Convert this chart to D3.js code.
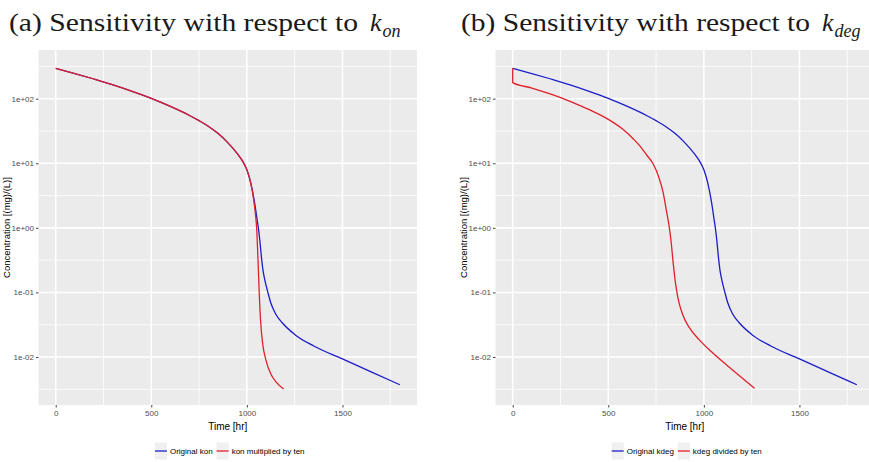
<!DOCTYPE html>
<html>
<head>
<meta charset="utf-8">
<script src="https://cdn.jsdelivr.net/npm/d3@7"></script>
<style>
  body { margin: 0; background: #fff; }
  svg { display: block; }
  .ttl { font-family: "Liberation Serif", "Times New Roman", "DejaVu Serif", serif; }
  .sans { font-family: "Liberation Sans", Arial, sans-serif; }
</style>
</head>
<body>
<svg id="chart" width="869" height="462"></svg>
<script>
// ---- data ----
// original simulation (same curve in both panels)
const timeOrig = [0, 100, 200, 300, 400, 500, 600, 700, 750, 800, 850, 900, 950, 980, 1000, 1020, 1040, 1055, 1060,
  1068, 1076, 1084, 1095, 1110, 1125, 1150, 1185, 1250, 1350, 1500, 1650, 1800]
const concOrig = [296, 245.5, 201.8, 164.1, 130.3, 101.2, 75.9, 55.0, 45.7, 37.2, 28.8, 20.9, 14.1, 10.5, 7.94, 5.01, 2.51, 1.26, 1.0,
  0.631, 0.355, 0.224, 0.151, 0.100, 0.0692, 0.0468, 0.0339, 0.0224, 0.0148, 0.00933, 0.00589, 0.00372]

// kon multiplied by ten
const timeKon = [0, 100, 200, 300, 400, 500, 600, 700, 750, 800, 850, 900, 950, 980, 1000, 1020, 1035, 1045, 1052,
  1057, 1062, 1066, 1072, 1083, 1100, 1126, 1150, 1192]
const concKon = [296, 245.5, 201.8, 164.1, 130.3, 101.2, 75.9, 55.0, 45.7, 37.2, 28.8, 20.9, 14.1, 10.5, 7.94, 5.01, 2.8, 1.6, 0.9,
  0.4, 0.16, 0.079, 0.0355, 0.0158, 0.0089, 0.0054, 0.0042, 0.0032]

// kdeg divided by ten
const timeKdeg = [0, 0, 100, 200, 300, 400, 500, 575, 630, 665, 700, 733, 760, 786, 805, 821, 830, 838, 850, 864,
  890, 925, 975, 1047, 1150, 1265]
const concKdeg = [296, 177, 146.2, 117.5, 91.2, 67.6, 47.9, 33.9, 24.0, 18.6, 13.5, 10.0, 6.61, 3.63, 1.78, 0.933,
  0.562, 0.316, 0.151, 0.0832, 0.0447, 0.0282, 0.0186, 0.0115, 0.00631, 0.00329]

const xTicks = [0, 500, 1000, 1500]
const xMinor = [250, 750, 1250, 1750]
const yTicks = [1e2, 1e1, 1e0, 1e-1, 1e-2]
const yTickLabels = ["1e+02", "1e+01", "1e+00", "1e-01", "1e-02"]
const yMinor = [316.2, 31.62, 3.162, 0.3162, 0.03162, 0.003162]
const xDomain = [-90, 1890]
const yDomain = [0.001807, 567.5]

const legendA = ["Original kon", "kon multiplied by ten"]
const legendB = ["Original kdeg", "kdeg divided by ten"]

const blue = "#1c1cc8", red = "#e0202a"

const svg = d3.select("#chart")
const panelTop = 50, panelBottom = 405, panelW = 378.5

const panels = [
  {left: 38.5, titleX: 9, tag: "(a) Sensitivity with respect to", sub: "on", legend: legendA,
    series: [{t: timeOrig, c: concOrig, color: blue}, {t: timeKon, c: concKon, color: red}]},
  {left: 495.5, titleX: 461, tag: "(b) Sensitivity with respect to", sub: "deg", legend: legendB,
    series: [{t: timeOrig, c: concOrig, color: blue}, {t: timeKdeg, c: concKdeg, color: red}]}
]

panels.forEach(p => drawPanel(p))

function drawPanel(p){
  const x = d3.scaleLinear().domain(xDomain).range([p.left, p.left + panelW])
  const y = d3.scaleLog().domain(yDomain).range([panelBottom, panelTop])
  const g = svg.append("g")

  // title, LaTeX-ish
  g.append("text").attr("class", "ttl")
    .attr("x", p.titleX).attr("y", 31)
    .attr("font-size", 26).attr("fill", "#1a1a1a")
    .attr("textLength", 349).attr("lengthAdjust", "spacingAndGlyphs")
    .text(p.tag)
  const sym = g.append("text").attr("class", "ttl")
    .attr("x", p.titleX + 361).attr("y", 31)
    .attr("font-size", 26).attr("fill", "#1a1a1a").attr("font-style", "italic")
  sym.append("tspan").text("k")
  sym.append("tspan").text(p.sub).attr("font-size", 18).attr("dy", 6).attr("dx", 1)

  // panel background
  g.append("rect")
    .attr("x", p.left).attr("y", panelTop)
    .attr("width", panelW).attr("height", panelBottom - panelTop)
    .attr("fill", "#ebebeb")

  // minor grid
  g.selectAll(".xminor").data(xMinor).join("line")
    .attr("x1", d => x(d)).attr("x2", d => x(d)).attr("y1", panelTop).attr("y2", panelBottom)
    .attr("stroke", "#fff").attr("stroke-width", 0.8)
  g.selectAll(".yminor").data(yMinor).join("line")
    .attr("y1", d => y(d)).attr("y2", d => y(d)).attr("x1", p.left).attr("x2", p.left + panelW)
    .attr("stroke", "#fff").attr("stroke-width", 0.8)
  // major grid
  g.selectAll(".xmajor").data(xTicks).join("line")
    .attr("x1", d => x(d)).attr("x2", d => x(d)).attr("y1", panelTop).attr("y2", panelBottom)
    .attr("stroke", "#fff").attr("stroke-width", 1.6)
  g.selectAll(".ymajor").data(yTicks).join("line")
    .attr("y1", d => y(d)).attr("y2", d => y(d)).attr("x1", p.left).attr("x2", p.left + panelW)
    .attr("stroke", "#fff").attr("stroke-width", 1.6)

  // axes
  const xAxis = g.append("g").attr("transform", `translate(0,${panelBottom})`)
    .call(d3.axisBottom(x).tickValues(xTicks).tickFormat(d3.format("d")).tickSize(2.5).tickPadding(3))
  const yAxis = g.append("g").attr("transform", `translate(${p.left},0)`)
    .call(d3.axisLeft(y).tickValues(yTicks).tickFormat((d, i) => yTickLabels[i]).tickSize(2.5).tickPadding(2))
  ;[xAxis, yAxis].forEach(a => {
    a.select(".domain").remove()
    a.selectAll(".tick line").attr("stroke", "#444")
    a.selectAll(".tick text").attr("fill", "#4d4d4d").attr("font-size", 8)
      .attr("font-family", "Liberation Sans, Arial, sans-serif")
  })

  // axis titles
  g.append("text").attr("class", "sans")
    .attr("x", p.left + panelW / 2).attr("y", 429.5)
    .attr("text-anchor", "middle").attr("font-size", 10)
    .text("Time [hr]")
  g.append("text").attr("class", "sans")
    .attr("transform", `translate(${p.left - 29},${(panelTop + panelBottom) / 2}) rotate(-90)`)
    .attr("text-anchor", "middle").attr("font-size", 9.5)
    .text("Concentration [(mg)/(L)]")

  // lines
  const line = d3.line()
    .x(d => x(d[0])).y(d => y(d[1]))
    .curve(d3.curveMonotoneX)
  p.series.forEach(s => {
    g.append("path")
      .datum(d3.zip(s.t, s.c))
      .attr("d", line)
      .attr("fill", "none")
      .attr("stroke", s.color)
      .attr("stroke-width", 1.3)
  })

  // legend
  const lg = g.append("g")
  let cx = 0
  p.legend.forEach((name, i) => {
    const item = lg.append("g").attr("transform", `translate(${cx},0)`)
    item.append("rect").attr("x", 0).attr("y", -8.5).attr("width", 12).attr("height", 17).attr("fill", "#f0f0f0")
    item.append("line").attr("x1", 0).attr("x2", 12).attr("y1", 0).attr("y2", 0)
      .attr("stroke", p.series[i].color).attr("stroke-width", 1.3)
    const t = item.append("text").attr("class", "sans").attr("x", 15).attr("y", 3)
      .attr("font-size", 8).text(name)
    cx += 15 + t.node().getComputedTextLength() + 4
  })
  const lw = cx - 4
  lg.attr("transform", `translate(${p.left + panelW / 2 + 2 - lw / 2},451)`)
}
</script>
</body>
</html>
